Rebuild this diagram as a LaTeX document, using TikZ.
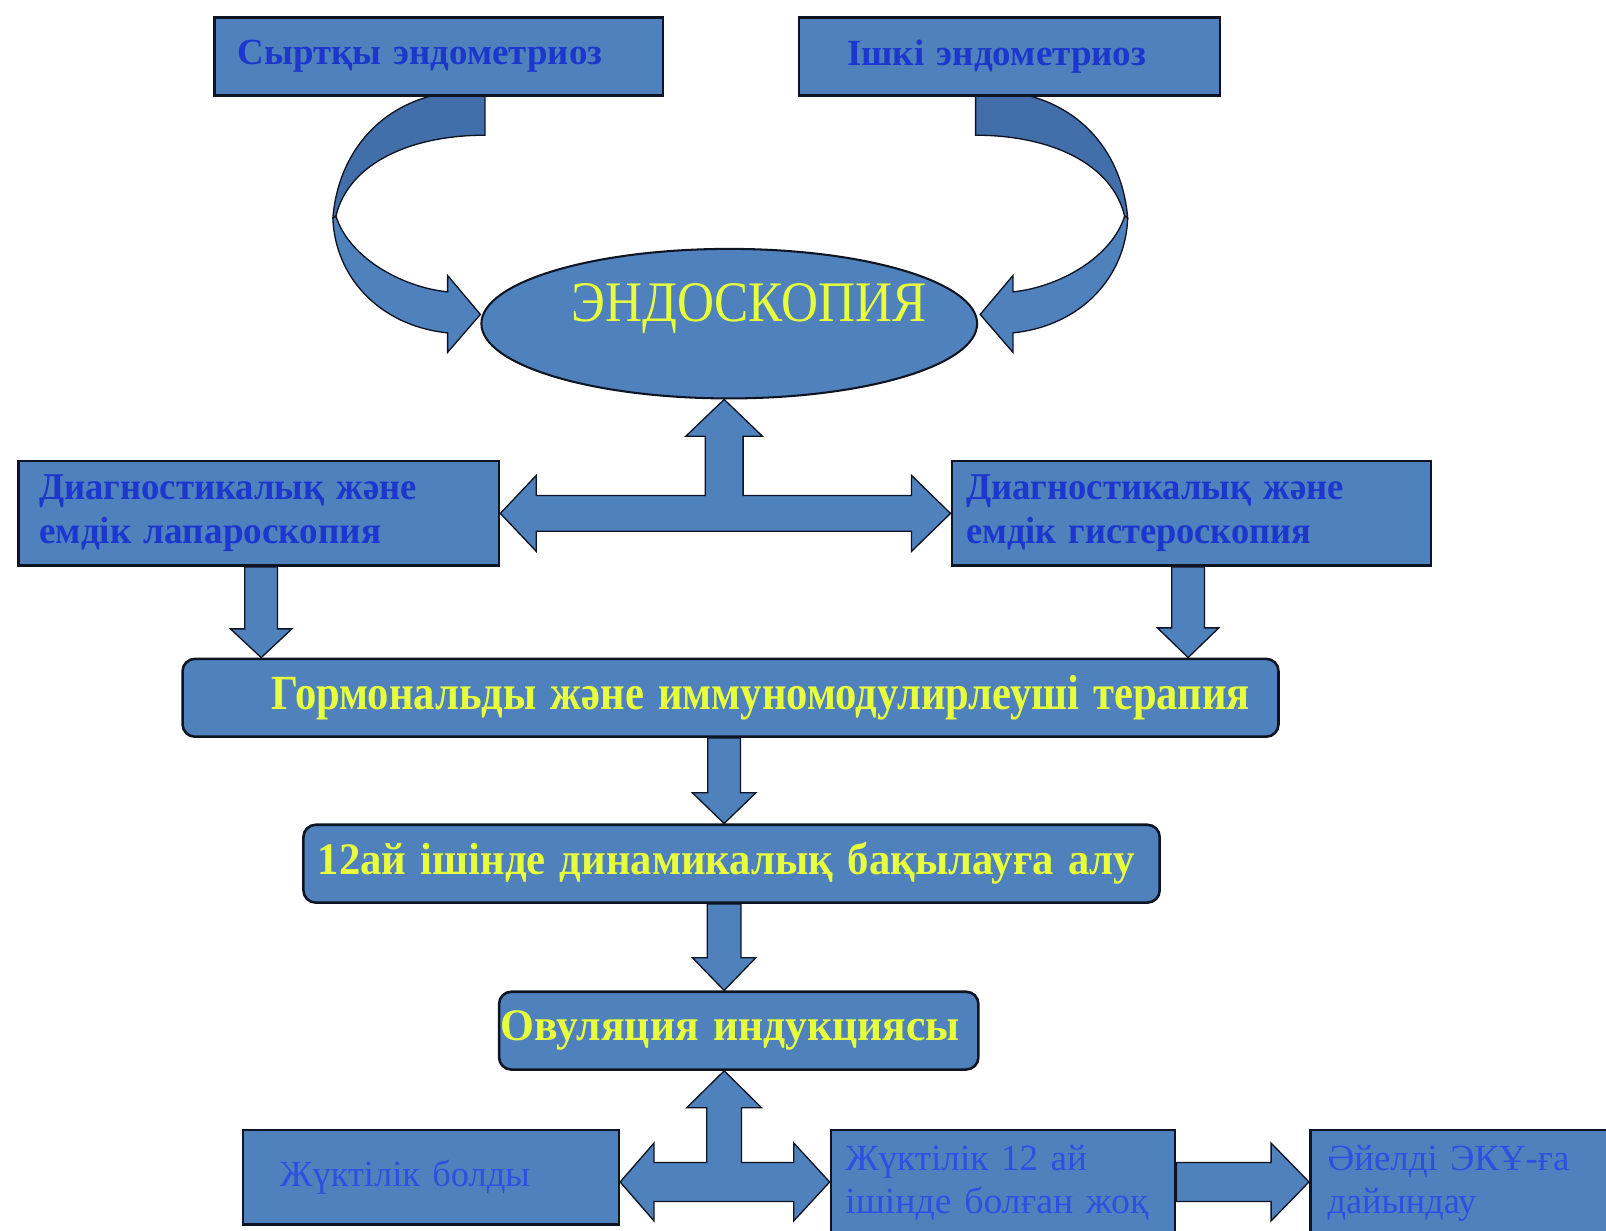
\documentclass[tikz,border=0pt]{standalone}
\usepackage{fontspec}
\setmainfont{Liberation Serif}
\usetikzlibrary{shapes.geometric,calc,backgrounds}
\definecolor{boxblue}{RGB}{79,129,189}
\definecolor{backblue}{RGB}{66,110,170}
\definecolor{edgecol}{RGB}{15,20,35}
\definecolor{txtblue}{RGB}{28,55,205}
\definecolor{lightblue}{RGB}{45,80,225}
\definecolor{txtyellow}{RGB}{232,255,60}
\newcommand\fitto[2]{\resizebox{#1}{\height}{#2}}
\newcommand\blkdown[5]{\path[blk] let \p1=(#1), \p2=(#2) in
  (\x1-#3,\y1) -- (\x1+#3,\y1) -- (\x1+#3,\y2+#5) -- (\x1+#4,\y2+#5) -- (\x1,\y2)
  -- (\x1-#4,\y2+#5) -- (\x1-#3,\y2+#5) -- cycle;}
\newcommand\curvarr{%
  \path[blk, fill=backblue] (473.5,92) -- (428,92) .. controls (370,104) and (330,150) .. (325,213)
     -- (328,211) .. controls (340,160) and (400,132) .. (473.5,132) -- cycle;
  \path[blk] (325,213) .. controls (327,270) and (370,318) .. (437,325) -- (437,344) -- (469,307)
     -- (437,269) -- (437,285) .. controls (390,280) and (340,250) .. (328,211) -- cycle;}
\begin{document}
\begin{tikzpicture}[x=1pt,y=-1pt,
  sqbox/.style={draw=edgecol, line width=2.5pt, fill=boxblue, anchor=north west,
     align=left, inner ysep=0pt, text=txtblue},
  rbox/.style={sqbox, rounded corners=12pt, text=txtyellow},
  blk/.style={draw=edgecol, line width=1.3pt, fill=boxblue, line join=miter},
  bf36/.style={font=\fontsize{36pt}{42pt}\selectfont\bfseries},
  rf36/.style={font=\fontsize{36pt}{42pt}\selectfont, text=lightblue}]
\useasboundingbox (0,0) rectangle (1568,1201);

% top boxes
\node[sqbox, bf36, minimum height=76pt, text width=392pt, inner xsep=23pt] (ext) at (208,16)
  {\fitto{356pt}{Сыртқы эндометриоз}};
\node[sqbox, bf36, minimum height=76pt, text width=317pt, inner xsep=47pt] (int) at (779,16)
  {\fitto{292pt}{Ішкі эндометриоз}};

% ellipse
\node[draw=edgecol, line width=2pt, fill=boxblue, ellipse, minimum width=484pt, minimum height=146pt] (endo) at (712,316) {};
\node[text=txtyellow, font=\fontsize{56pt}{60pt}\selectfont, inner sep=0pt] (endotxt) at (731.5,301)
  {\fitto{347pt}{ЭНДОСКОПИЯ}};

% second row
\node[sqbox, font=\fontsize{37pt}{43pt}\selectfont\bfseries, minimum height=102pt, text width=429pt, inner xsep=20pt] (lap) at (17,449)
  {\fitto{369pt}{Диагностикалық және}\\\fitto{334pt}{емдік лапароскопия}};
\node[sqbox, font=\fontsize{37pt}{43pt}\selectfont\bfseries, minimum height=102pt, text width=440pt, inner xsep=14pt] (hys) at (928,449)
  {\fitto{369pt}{Диагностикалық және}\\\fitto{337pt}{емдік гистероскопия}};

% rounded boxes
\node[rbox, font=\fontsize{48pt}{52pt}\selectfont\bfseries, minimum height=76pt, text width=896pt, inner xsep=87pt] (horm) at (177,642)
  {\fitto{955pt}{Гормональды және иммуномодулирлеуші терапия}};
\node[rbox, font=\fontsize{44pt}{48pt}\selectfont\bfseries, minimum height=76pt, text width=808pt, inner xsep=14pt] (dyn) at (295,804)
  {\fitto{798pt}{12ай ішінде динамикалық бақылауға алу}};
\node[rbox, font=\fontsize{44pt}{48pt}\selectfont\bfseries, minimum height=76pt, text width=466pt, inner xsep=1pt] (ovu) at (486,967)
  {\fitto{449pt}{Овуляция индукциясы}};

% bottom row
\node[sqbox, rf36, minimum height=92pt, text width=295pt, inner xsep=36pt] (preg) at (236,1102)
  {\fitto{244pt}{Жүктілік болды}};
\node[sqbox, rf36, minimum height=104pt, text width=308pt, inner xsep=14pt] (nopreg) at (810,1102)
  {\fitto{236pt}{Жүктілік 12 ай}\\\fitto{296pt}{ішінде болған жоқ}};
\node[sqbox, rf36, minimum height=104pt, text width=266pt, inner xsep=17pt] (ivf) at (1278,1102)
  {\fitto{236pt}{Әйелді ЭКҰ-ға}\\\fitto{145pt}{дайындау}};

\begin{scope}[on background layer]
  \fill[white] (0,0) rectangle (1568,1201);
  % curved arrows
  \curvarr
  \begin{scope}[shift={(1426,0)}, xscale=-1]
    \curvarr
  \end{scope}
  % T arrow between second-row boxes and ellipse
  \path[blk] let \p1=(lap.east), \p2=(hys.west), \p3=(707,0 |- endo.south) in
    (\x1,\y1) -- (\x1+35pt,\y1+37pt) -- (\x1+35pt,\y1+17.5pt) -- (\x3-18.5pt,\y1+17.5pt)
    -- (\x3-18.5pt,\y3-36pt) -- (\x3-37.5pt,\y3-36pt) -- (\x3,\y3) -- (\x3+37.5pt,\y3-36pt)
    -- (\x3+18.5pt,\y3-36pt) -- (\x3+18.5pt,\y1+17.5pt) -- (\x2-38pt,\y1+17.5pt)
    -- (\x2-38pt,\y1+37pt) -- (\x2,\y1) -- (\x2-38pt,\y1-37pt) -- (\x2-38pt,\y1-17.5pt)
    -- (\x1+35pt,\y1-17.5pt) -- (\x1+35pt,\y1-37pt) -- cycle;
  % down arrows
  \blkdown{255,0 |- lap.south}{255,0 |- horm.north}{16pt}{30pt}{28pt}
  \blkdown{1160,0 |- hys.south}{1160,0 |- horm.north}{16pt}{30pt}{29pt}
  \blkdown{707,0 |- horm.south}{707,0 |- dyn.north}{16pt}{31pt}{30pt}
  \blkdown{707,0 |- dyn.south}{707,0 |- ovu.north}{16.5pt}{31pt}{32pt}
  % bottom T arrow
  \path[blk] let \p1=(preg.east |- 0,1154), \p2=(nopreg.west |- 0,1154), \p3=(707,0 |- ovu.south) in
    (\x1,\y1) -- (\x1+33pt,\y1+38pt) -- (\x1+33pt,\y1+19pt) -- (\x3-17pt,\y1+19pt)
    -- (\x3-17pt,\y3-36pt) -- (\x3-36.5pt,\y3-36pt) -- (\x3,\y3) -- (\x3+36.5pt,\y3-36pt)
    -- (\x3+17pt,\y3-36pt) -- (\x3+17pt,\y1+19pt) -- (\x2-35pt,\y1+19pt)
    -- (\x2-35pt,\y1+38pt) -- (\x2,\y1) -- (\x2-35pt,\y1-38pt) -- (\x2-35pt,\y1-19pt)
    -- (\x1+33pt,\y1-19pt) -- (\x1+33pt,\y1-38pt) -- cycle;
  % right arrow to IVF box
  \path[blk] let \p1=(nopreg.east |- 0,1154), \p2=(ivf.west |- 0,1154) in
    (\x1,\y1+19pt) -- (\x2-37pt,\y1+19pt) -- (\x2-37pt,\y1+38pt) -- (\x2,\y1)
    -- (\x2-37pt,\y1-38pt) -- (\x2-37pt,\y1-19pt) -- (\x1,\y1-19pt) -- cycle;
\end{scope}
\end{tikzpicture}
\end{document}
